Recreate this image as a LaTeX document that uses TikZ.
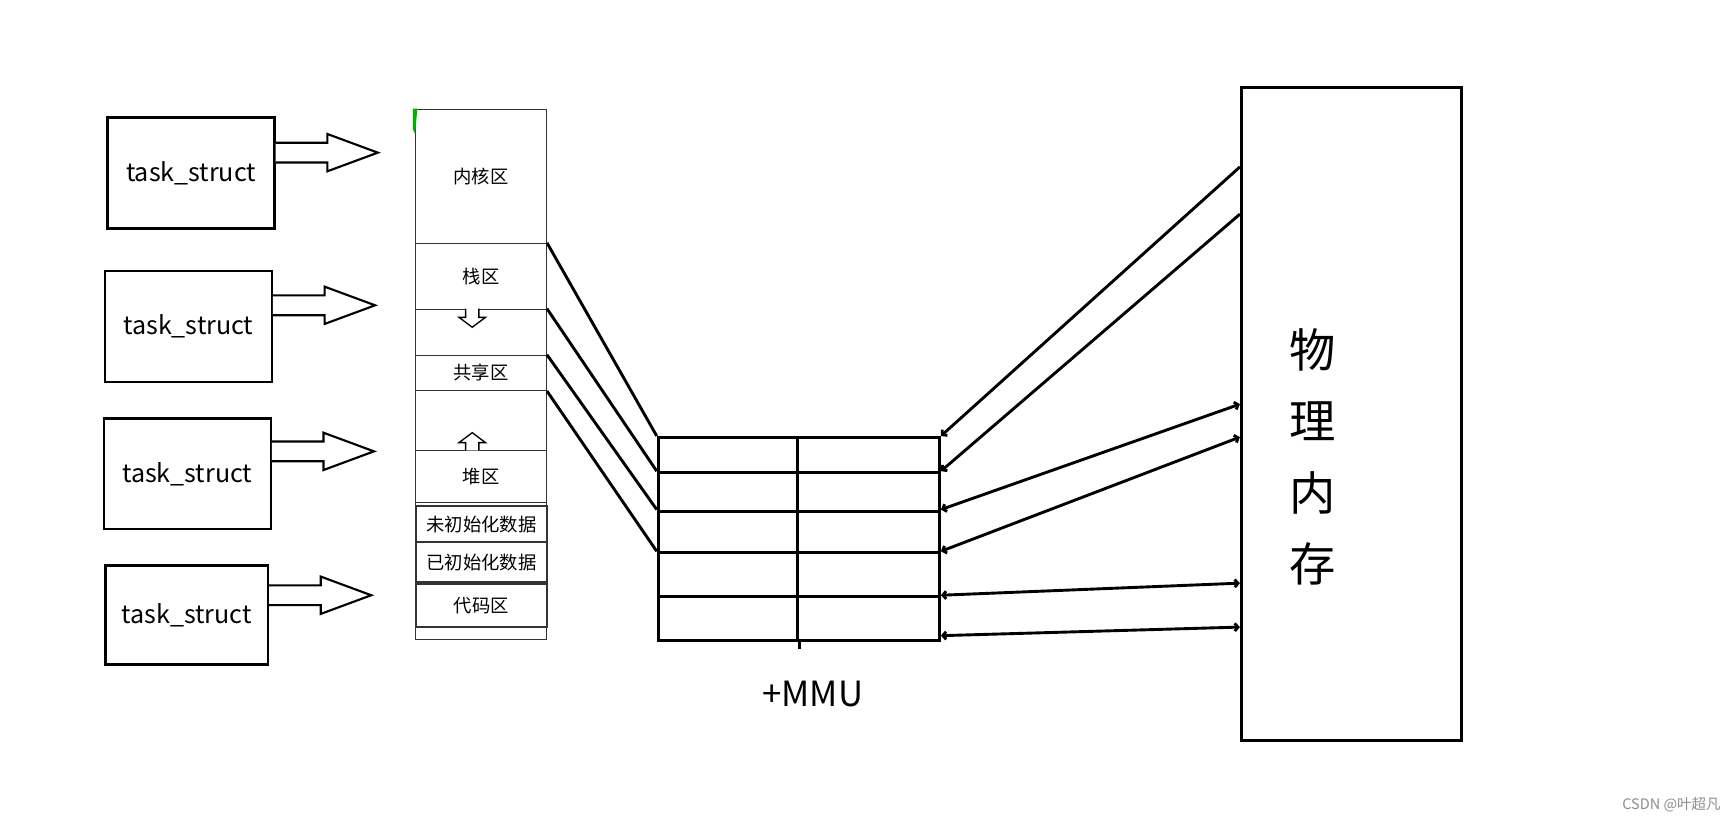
\documentclass[tikz,border=0pt]{standalone}
\usepackage{fontspec}
\usepackage{tikz}
\usetikzlibrary{arrows.meta,calc}
\newfontfamily\cjk{Noto Sans CJK SC}

\begin{document}
\begin{tikzpicture}[x=0.02cm,y=-0.02cm,>={Straight Barb[length=0.6mm,width=1.4mm]},
  taskbox/.style={draw,line width=1.2pt,minimum width=3.04cm,minimum height=2.02cm,inner sep=0pt,font=\cjk\fontsize{13}{15}\selectfont},
  hollow/.style={draw,line width=1.1pt,fill=white},
  seg/.style={draw=black!80,line width=0.6pt,anchor=north west,minimum width=2.38cm,inner sep=0pt,font=\cjk\fontsize{9.5}{11}\selectfont},
  cell/.style={draw,line width=1.6pt,anchor=north west,inner sep=0pt},
  link/.style={line width=1.5pt}]
\useasboundingbox (0,0) rectangle (1568,750);

\node[taskbox] (t1) at (174,157.5) {task\_struct};
\node[taskbox] (t2) at (171.5,297.5) {task\_struct};
\node[taskbox] (t3) at (170.5,431.5) {task\_struct};
\node[taskbox,minimum width=2.96cm,minimum height=1.8cm] (t4) at (170,560) {task\_struct};

\foreach \n/\y in {t1/139,t2/278,t3/411,t4/542}
  \draw[hollow] (\n.east |- 0,\y) ++(0,-9) -- ++(47,0) -- ++(0,-8) -- ++(46,17) -- ++(-46,17) -- ++(0,-8) -- ++(-47,0);

% address space
\node[seg,minimum height=9.66cm] (column) at (378,99) {};
\node[seg,minimum height=2.44cm] (kernel) at (378,99) {内核区};
\node[seg,minimum height=1.2cm] (stack) at (378,221) {栈区};
\node[seg,minimum height=0.84cm] (gapA) at (378,281) {};
\node[seg,minimum height=0.64cm] (share) at (378,323) {共享区};
\node[seg,minimum height=1.1cm] (gapB) at (378,355) {};
\node[seg,minimum height=0.94cm] (heap) at (378,410) {堆区};
\node[seg,line width=1pt,minimum height=0.66cm] (bss) at (378,460) {未初始化数据};
\node[seg,line width=1pt,minimum height=0.72cm] (data) at (378,493) {已初始化数据};
\node[seg,line width=1pt,minimum height=0.78cm] (code) at (378,531) {代码区};
\fill[green!70!black] (376,99) -- (380,99) -- (378,122) -- (376,118) -- cycle;

\draw[line width=0.7pt,fill=white] (424,281) -- (424,289) -- (418,289) -- (430,298) -- (442,289) -- (436,289) -- (436,281);
\draw[line width=0.7pt,fill=white] (424,410) -- (424,403) -- (418,403) -- (430,394) -- (442,403) -- (436,403) -- (436,410);

% MMU table
\foreach \i/\y/\h in {1/397/32,2/429/35,3/464/38,4/502/40,5/542/40} {
  \node[cell,minimum width=2.54cm,minimum height=\h*0.02cm] (mL\i) at (598,\y) {};
  \node[cell,minimum width=2.58cm,minimum height=\h*0.02cm] (mR\i) at (725,\y) {};
}
\draw[line width=1.6pt] (mL5.south east) -- ++(0,6);
\node[font=\cjk\fontsize{18}{20}\selectfont] (mmu) at (740,632) {+MMU};

\draw[link] (stack.north east) -- (mL1.north west);
\draw[link] (gapA.north east) -- (mL2.north west);
\draw[link] (share.north east) -- (mL3.north west);
\draw[link] (share.south east) -- (mL4.north west);

% physical memory
\node[draw,line width=1.6pt,anchor=north west,minimum width=4cm,minimum height=11.9cm,inner sep=0pt] (phys) at (1129,78) {};
\node[font=\cjk\fontsize{24}{37}\selectfont,align=center] (physlbl) at (1195,416) {物\\理\\内\\存};
\foreach \i/\y in {1/152,2/195,3/368,4/398,5/531,6/571}
  \coordinate (p\i) at (phys.north west |- 0,\y);

\draw[link,<-] (mR1.north east) -- (p1);
\draw[link,<-] (mR2.north east) -- (p2);
\draw[link,<->] (mR3.north east) -- (p3);
\draw[link,<->] (mR4.north east) -- (p4);
\draw[link,<->] (mR5.north east) -- (p5);
\draw[link,<->] ($(mR5.south east)+(0,-6)$) -- (p6);

\node[font=\cjk\fontsize{7.5}{9}\selectfont,text=black!45] (mark) at (1522,733) {CSDN @叶超凡};
\end{tikzpicture}
\end{document}
